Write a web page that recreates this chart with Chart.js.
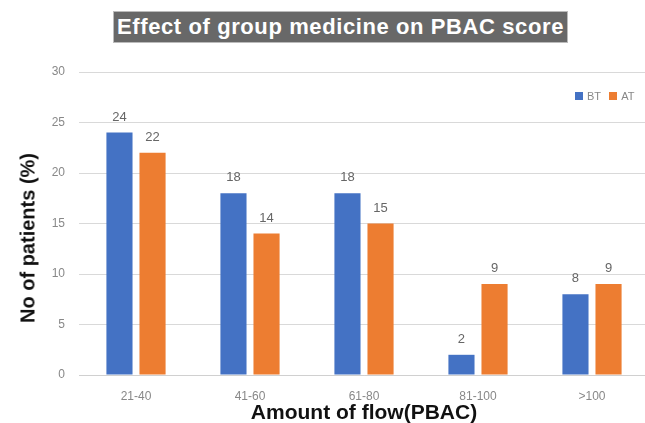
<!DOCTYPE html>
<html lang="en">
<head>
    <meta charset="UTF-8">
    <title>Effect of group medicine on PBAC score</title>
    <script src="https://cdn.jsdelivr.net/npm/chart.js"></script>
    <style>
        body { margin: 0; background: #fff; overflow: hidden; width: 645px; height: 423px; position: relative; font-family: "Liberation Sans", Arial, sans-serif; }
        .caixa { position: absolute; left: 0; top: 0; width: 660px; height: 423px; }
        .titulo { position: absolute; left: 113px; top: 11px; width: 455px; height: 32px; background: #686868; border: 1px solid #bbb; box-sizing: border-box;
            color: #fff; font-weight: bold; font-size: 22px; letter-spacing: 0.6px; line-height: 30px; text-align: center; white-space: nowrap; }
        .eixoY { position: absolute; left: 28px; top: 238px; transform: translate(-50%, -50%) rotate(-90deg);
            font-weight: bold; font-size: 20px; color: #111; white-space: nowrap; }
        .legenda { position: absolute; left: 575px; top: 90px; font-size: 11px; color: #888; white-space: nowrap; }
        .legenda span.q { display: inline-block; width: 8px; height: 8px; margin-right: 4px; }
        .legenda span.t { margin-right: 5px; }
    </style>
</head>
<body>
    <div class="caixa"><canvas id="grafico" width="660" height="423"></canvas></div>
    <div class="titulo">Effect of group medicine on PBAC score</div>
    <div class="eixoY">No of patients (%)</div>
    <div class="legenda">
        <span class="q" style="background:#4472c4"></span><span class="t">BT</span>
        <span class="q" style="background:#ed7d31"></span><span class="t">AT</span>
    </div>
<script>
    // dados
    const categorias = ['21-40', '41-60', '61-80', '81-100', '>100'];
    const valoresBT = [24, 18, 18, 2, 8];
    const valoresAT = [22, 14, 15, 9, 9];
    const ticksY = [0, 5, 10, 15, 20, 25, 30];

    // rótulos em cima das barras
    const rotulos = {
        id: 'rotulos',
        afterDatasetsDraw(chart) {
            const ctx = chart.ctx;
            ctx.save();
            ctx.font = '13px "Liberation Sans", Arial, sans-serif';
            ctx.fillStyle = '#666';
            ctx.textAlign = 'center';
            ctx.textBaseline = 'bottom';
            chart.data.datasets.forEach(function (ds, i) {
                chart.getDatasetMeta(i).data.forEach(function (bar, j) {
                    ctx.fillText(ds.data[j], bar.x, bar.y - 9);
                });
            });
            ctx.restore();
        }
    };

    const dados = {
        labels: categorias,
        datasets: [
            { label: 'BT', data: valoresBT, backgroundColor: '#4472c4' },
            { label: 'AT', data: valoresAT, backgroundColor: '#ed7d31' }
        ]
    };

    const config = {
        type: 'bar',
        data: dados,
        options: {
            responsive: false,
            animation: false,
            categoryPercentage: 0.58,
            barPercentage: 0.79,
            layout: { padding: { top: 72, right: 11, left: 0, bottom: 0 } },
            plugins: { legend: { display: false }, tooltip: { enabled: false } },
            scales: {
                x: {
                    grid: { display: false, drawTicks: false },
                    border: { color: '#d0d0d0', width: 1 },
                    ticks: { color: '#888', padding: 14, font: { size: 12, family: '"Liberation Sans", Arial' } },
                    title: { display: true, text: 'Amount of flow(PBAC)', color: '#111', padding: { top: 0, bottom: -3 },
                        font: { size: 21, weight: 'bold', family: '"Liberation Sans", Arial' } },
                    afterFit: function (s) { s.height = 48; }
                },
                y: {
                    min: 0, max: 30,
                    afterBuildTicks: function (s) { s.ticks = ticksY.map(function (v) { return { value: v }; }); },
                    grid: { color: '#d9d9d9', drawTicks: false },
                    border: { display: false },
                    ticks: { color: '#888', padding: 14, font: { size: 12, family: '"Liberation Sans", Arial' } },
                    afterFit: function (s) { s.width = 79; }
                }
            }
        },
        plugins: [rotulos]
    };

    let grafico = new Chart(document.getElementById('grafico'), config);
</script>
</body>
</html>
